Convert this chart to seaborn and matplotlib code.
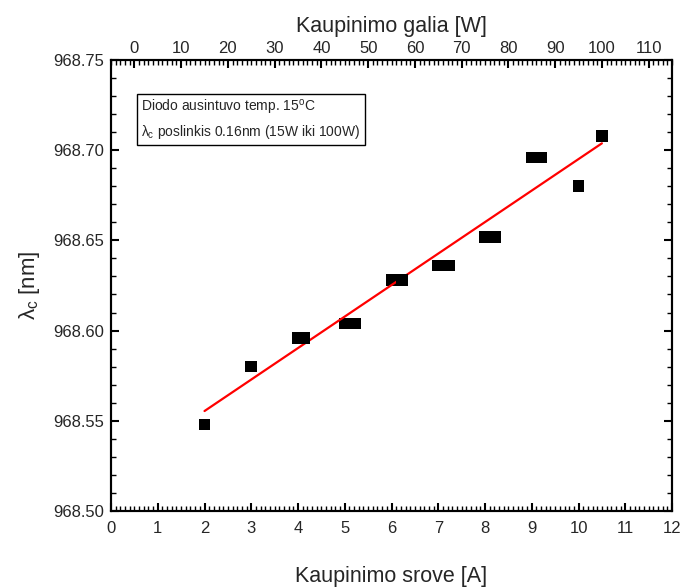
import matplotlib
matplotlib.use("Agg")
import matplotlib.pyplot as plt
import seaborn as sns
import pandas as pd
from matplotlib.ticker import MultipleLocator, FormatStrFormatter

# Measured centre wavelength vs. heating current
current_a = [2.0, 3.0, 4.0, 5.0, 6.0, 7.0, 8.0, 9.0, 10.0]
wl_current = [968.548, 968.580, 968.596, 968.604, 968.628, 968.636, 968.652, 968.696, 968.680]

# Measured centre wavelength vs. heating power
power_w = [36.3, 47.2, 57.2, 67.3, 77.1, 87.0, 100.0]
wl_power = [968.596, 968.604, 968.628, 968.636, 968.652, 968.696, 968.708]

# Linear fit over the 15 W .. 100 W range
fit_w = [15.0, 100.0]
fit_wl = [968.5554, 968.7038]

sns.set_style("ticks")
plt.rcParams["font.family"] = ["Liberation Sans", "DejaVu Sans"]
plt.rcParams["mathtext.fontset"] = "custom"
plt.rcParams["mathtext.rm"] = "Liberation Sans"
plt.rcParams["mathtext.it"] = "Liberation Sans"
plt.rcParams["xtick.minor.visible"] = True
plt.rcParams["ytick.minor.visible"] = True

fig = plt.figure(figsize=(6.84, 5.88), dpi=100)
ax = fig.add_axes([0.1623, 0.131, 0.8202, 0.767])
ax2 = ax.twiny()

df_a = pd.DataFrame({"I": current_a, "wl": wl_current})
df_w = pd.DataFrame({"P": power_w, "wl": wl_power})
df_fit = pd.DataFrame({"P": fit_w, "wl": fit_wl})

sns.scatterplot(data=df_a, x="I", y="wl", marker="s", s=70, color="black",
                edgecolor="none", ax=ax, zorder=3)
sns.scatterplot(data=df_w, x="P", y="wl", marker="s", s=70, color="black",
                edgecolor="none", ax=ax2, zorder=3)
sns.lineplot(data=df_fit, x="P", y="wl", color="#ff0000", lw=1.6, ax=ax2, zorder=2)

ax.set_xlim(0, 12)
ax2.set_xlim(-5, 115)
ax.set_ylim(968.50, 968.75)

ax.xaxis.set_major_locator(MultipleLocator(1))
ax.xaxis.set_minor_locator(MultipleLocator(0.1))
ax.yaxis.set_major_locator(MultipleLocator(0.05))
ax.yaxis.set_minor_locator(MultipleLocator(0.01))
ax.yaxis.set_major_formatter(FormatStrFormatter("%.2f"))
ax2.xaxis.set_major_locator(MultipleLocator(10))
ax2.xaxis.set_minor_locator(MultipleLocator(1))

for a in (ax, ax2):
    for sp in a.spines.values():
        sp.set_visible(True)
        sp.set_linewidth(1.5)
        sp.set_color("black")

ax.tick_params(axis="x", which="both", direction="in", top=False, bottom=True,
               labelsize=12, pad=7, color="black")
ax.tick_params(axis="y", which="both", direction="in", left=True, right=True,
               labelsize=12, pad=5, color="black")
ax.tick_params(which="major", length=6, width=1.5)
ax.tick_params(which="minor", length=3.5, width=1.0)
ax2.tick_params(axis="x", which="both", direction="in", labelsize=12, pad=3,
                color="black")
ax2.tick_params(which="major", length=6, width=1.5)
ax2.tick_params(which="minor", length=3.5, width=1.0)

ax.set_xlabel("Kaupinimo srove [A]", fontsize=15.5, labelpad=22)
ax2.set_xlabel("Kaupinimo galia [W]", fontsize=15.5, labelpad=6)
ax.set_ylabel(r"$\lambda_\mathrm{c}$ [nm]", fontsize=16, labelpad=8)

ax.text(0.054, 0.915,
        "Diodo ausintuvo temp. 15$^\\mathrm{o}$C\n$\\lambda_\\mathrm{c}$ poslinkis 0.16nm (15W iki 100W)",
        transform=ax.transAxes, fontsize=10, va="top", ha="left", linespacing=1.45,
        bbox=dict(boxstyle="square,pad=0.3", facecolor="white", edgecolor="black", lw=1))

fig.savefig("out.png", dpi=100)
